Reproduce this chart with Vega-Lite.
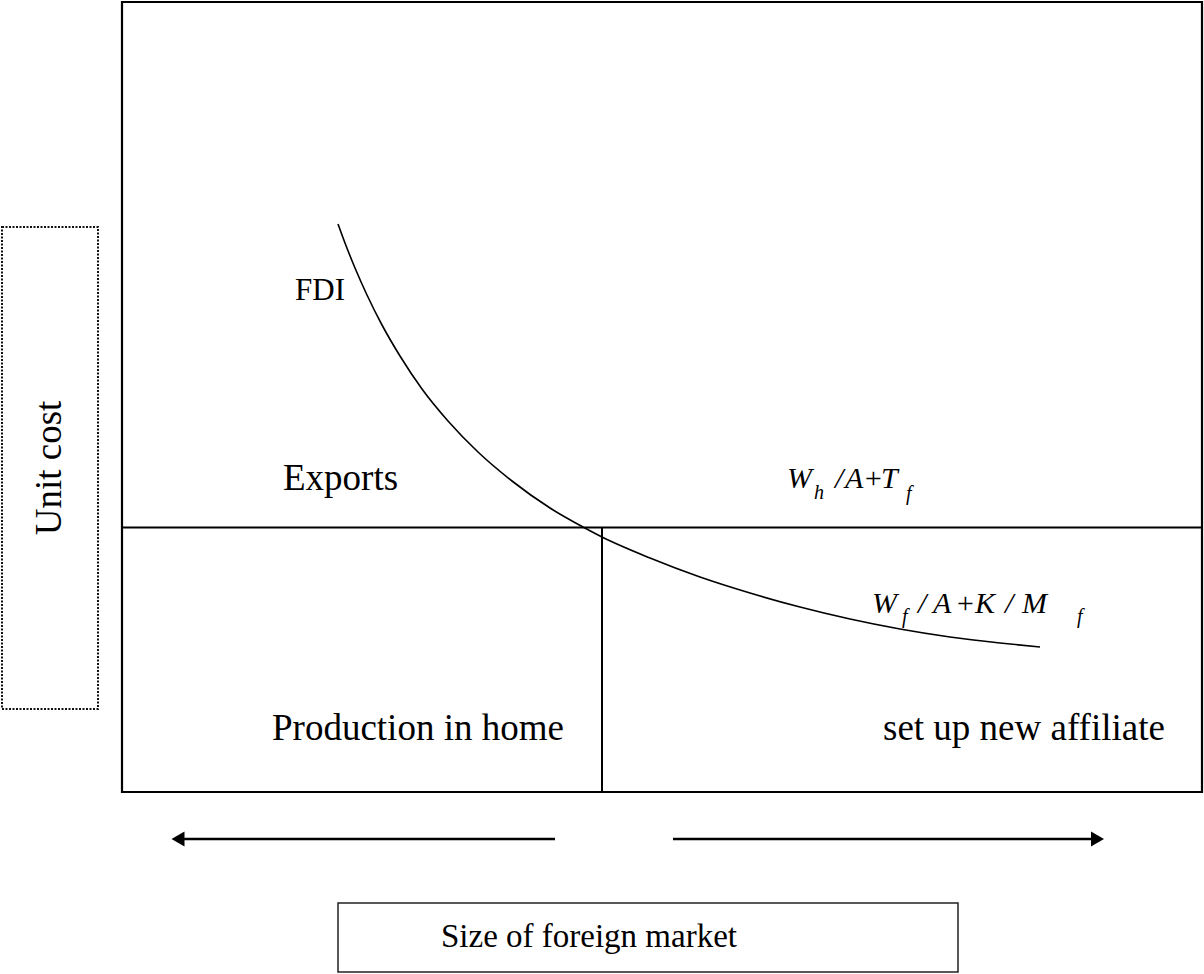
{
  "$schema": "https://vega.github.io/schema/vega-lite/v6.json",
  "width": 1204,
  "height": 974,
  "autosize": {"type": "fit", "contains": "padding"},
  "padding": 0,
  "background": "white",
  "config": {"view": {"stroke": null}, "font": "Liberation Serif"},
  "datasets": {
    "frame": [{"x0": 0, "x1": 108, "y0": 0, "y1": 79}],
    "bottomBox": [{"x0": 21.6, "x1": 83.6, "y0": -11.1, "y1": -18.0}],
    "dotBox": [{"x0": -12.0, "x1": -2.4, "y0": 56.5, "y1": 8.3}],
    "hline": [{"x0": 0, "x1": 108, "y": 26.45}],
    "vline": [{"x": 48.0, "y0": 0, "y1": 26.45}],
    "arrows": [{"x0": 43.3, "x1": 6.0, "y": -4.7}, {"x0": 55.1, "x1": 97.0, "y": -4.7}],
    "heads": [{"x": 5.6, "y": -4.7, "dir": "left"}, {"x": 97.55, "y": -4.7, "dir": "right"}],
    "curve": [
      {"x": 21.6, "y": 56.8}, {"x": 22.3, "y": 54.9}, {"x": 23.3, "y": 52.4}, {"x": 24.5, "y": 49.7},
      {"x": 26.0, "y": 46.7}, {"x": 27.8, "y": 43.6}, {"x": 30.0, "y": 40.3}, {"x": 32.6, "y": 37.1},
      {"x": 35.6, "y": 34.0}, {"x": 39.0, "y": 31.1}, {"x": 42.8, "y": 28.4}, {"x": 46.1, "y": 26.5},
      {"x": 48.0, "y": 25.5}, {"x": 52.8, "y": 23.4}, {"x": 57.8, "y": 21.5}, {"x": 62.8, "y": 19.9},
      {"x": 67.8, "y": 18.5}, {"x": 72.8, "y": 17.3}, {"x": 77.8, "y": 16.3}, {"x": 82.8, "y": 15.5},
      {"x": 87.8, "y": 14.9}, {"x": 91.8, "y": 14.5}
    ],
    "mainLabels": [
      {"t": "Exports", "x": 16.1, "y": 30.2},
      {"t": "Production in home", "x": 15.0, "y": 5.2},
      {"t": "set up new affiliate", "x": 76.1, "y": 5.2}
    ],
    "fdi": [{"t": "FDI", "x": 22.3, "y": 49.2}],
    "yTitle": [{"t": "Unit cost", "x": -7.2, "y": 32.4}],
    "xTitle": [{"t": "Size of foreign market", "x": 46.7, "y": -14.5}],
    "formulaMain": [
      {"t": "W", "x": 66.5, "y": 30.4}, {"t": "/", "x": 71.3, "y": 30.4}, {"t": "A", "x": 72.3, "y": 30.4},
      {"t": "+", "x": 74.1, "y": 30.4}, {"t": "T", "x": 75.9, "y": 30.4},
      {"t": "W", "x": 75.0, "y": 17.9}, {"t": "/", "x": 79.6, "y": 17.9}, {"t": "A", "x": 81.1, "y": 17.9},
      {"t": "+", "x": 83.3, "y": 17.9}, {"t": "K", "x": 85.3, "y": 17.9}, {"t": "/", "x": 88.3, "y": 17.9},
      {"t": "M", "x": 90.0, "y": 17.9}
    ],
    "formulaSub": [
      {"t": "h", "x": 69.2, "y": 29.3}, {"t": "f", "x": 78.4, "y": 29.2},
      {"t": "f", "x": 78.0, "y": 16.9}, {"t": "f", "x": 95.5, "y": 16.9}
    ]
  },
  "layer": [
    {
      "data": {"name": "frame"},
      "mark": {"type": "rect", "filled": false, "stroke": "#000", "strokeWidth": 2.2},
      "encoding": {
        "x": {"field": "x0", "type": "quantitative", "scale": {"domain": [-12.2, 108.2], "nice": false, "zero": false}, "axis": null},
        "x2": {"field": "x1"},
        "y": {"field": "y0", "type": "quantitative", "scale": {"domain": [-18.2, 79.2], "nice": false, "zero": false}, "axis": null},
        "y2": {"field": "y1"}
      }
    },
    {
      "data": {"name": "bottomBox"},
      "mark": {"type": "rect", "filled": false, "stroke": "#222", "strokeWidth": 1.5},
      "encoding": {
        "x": {"field": "x0", "type": "quantitative"},
        "x2": {"field": "x1"},
        "y": {"field": "y0", "type": "quantitative"},
        "y2": {"field": "y1"}
      }
    },
    {
      "data": {"name": "dotBox"},
      "mark": {"type": "rect", "filled": false, "stroke": "#111", "strokeWidth": 2, "strokeDash": [2, 1.5]},
      "encoding": {
        "x": {"field": "x0", "type": "quantitative"},
        "x2": {"field": "x1"},
        "y": {"field": "y0", "type": "quantitative"},
        "y2": {"field": "y1"}
      }
    },
    {
      "data": {"name": "hline"},
      "mark": {"type": "rule", "color": "#000", "strokeWidth": 2},
      "encoding": {
        "x": {"field": "x0", "type": "quantitative"},
        "x2": {"field": "x1"},
        "y": {"field": "y", "type": "quantitative"}
      }
    },
    {
      "data": {"name": "vline"},
      "mark": {"type": "rule", "color": "#000", "strokeWidth": 2},
      "encoding": {
        "x": {"field": "x", "type": "quantitative"},
        "y": {"field": "y0", "type": "quantitative"},
        "y2": {"field": "y1"}
      }
    },
    {
      "data": {"name": "arrows"},
      "mark": {"type": "rule", "color": "#000", "strokeWidth": 2.5},
      "encoding": {
        "x": {"field": "x0", "type": "quantitative"},
        "x2": {"field": "x1"},
        "y": {"field": "y", "type": "quantitative"}
      }
    },
    {
      "data": {"name": "heads"},
      "mark": {"type": "point", "filled": true, "color": "#000", "size": 225, "opacity": 1},
      "encoding": {
        "x": {"field": "x", "type": "quantitative"},
        "y": {"field": "y", "type": "quantitative"},
        "shape": {"field": "dir", "type": "nominal", "scale": {"domain": ["left", "right"], "range": ["triangle-left", "triangle-right"]}, "legend": null}
      }
    },
    {
      "data": {"name": "curve"},
      "mark": {"type": "line", "color": "#000", "strokeWidth": 1.6, "interpolate": "monotone"},
      "encoding": {
        "x": {"field": "x", "type": "quantitative"},
        "y": {"field": "y", "type": "quantitative"}
      }
    },
    {
      "data": {"name": "mainLabels"},
      "mark": {"type": "text", "font": "Liberation Serif", "fontSize": 37, "align": "left", "baseline": "alphabetic", "color": "#000"},
      "encoding": {
        "x": {"field": "x", "type": "quantitative"},
        "y": {"field": "y", "type": "quantitative"},
        "text": {"field": "t"}
      }
    },
    {
      "data": {"name": "fdi"},
      "mark": {"type": "text", "font": "Liberation Serif", "fontSize": 31, "align": "right", "baseline": "alphabetic", "color": "#000"},
      "encoding": {
        "x": {"field": "x", "type": "quantitative"},
        "y": {"field": "y", "type": "quantitative"},
        "text": {"field": "t"}
      }
    },
    {
      "data": {"name": "yTitle"},
      "mark": {"type": "text", "font": "Liberation Serif", "fontSize": 37, "align": "center", "baseline": "middle", "angle": 270, "color": "#000"},
      "encoding": {
        "x": {"field": "x", "type": "quantitative"},
        "y": {"field": "y", "type": "quantitative"},
        "text": {"field": "t"}
      }
    },
    {
      "data": {"name": "xTitle"},
      "mark": {"type": "text", "font": "Liberation Serif", "fontSize": 33, "align": "center", "baseline": "middle", "color": "#000"},
      "encoding": {
        "x": {"field": "x", "type": "quantitative"},
        "y": {"field": "y", "type": "quantitative"},
        "text": {"field": "t"}
      }
    },
    {
      "data": {"name": "formulaMain"},
      "mark": {"type": "text", "font": "Liberation Serif", "fontSize": 30, "fontStyle": "italic", "align": "left", "baseline": "alphabetic", "color": "#000"},
      "encoding": {
        "x": {"field": "x", "type": "quantitative"},
        "y": {"field": "y", "type": "quantitative"},
        "text": {"field": "t"}
      }
    },
    {
      "data": {"name": "formulaSub"},
      "mark": {"type": "text", "font": "Liberation Serif", "fontSize": 20, "fontStyle": "italic", "align": "left", "baseline": "alphabetic", "color": "#000"},
      "encoding": {
        "x": {"field": "x", "type": "quantitative"},
        "y": {"field": "y", "type": "quantitative"},
        "text": {"field": "t"}
      }
    }
  ]
}
